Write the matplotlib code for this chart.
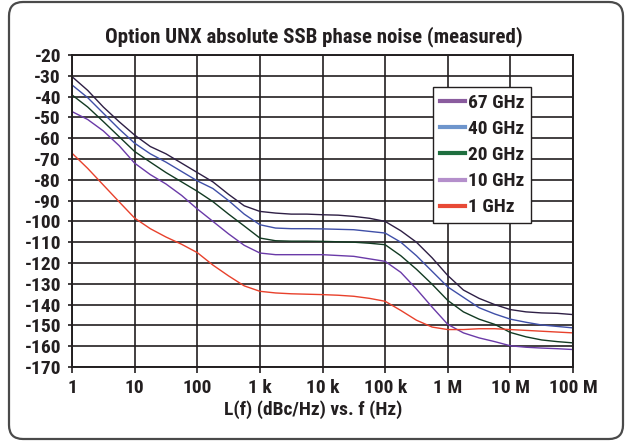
import numpy as np
import matplotlib
matplotlib.use("Agg")
import matplotlib.pyplot as plt
from matplotlib.lines import Line2D
from matplotlib.patches import FancyBboxPatch

plt.rcParams['font.family'] = ['Roboto Condensed', 'DejaVu Sans']
plt.rcParams['font.weight'] = 800
plt.rcParams['axes.unicode_minus'] = False

# offset frequency in decades above 1 Hz (quarter decade steps)
decades = [0, 0.25, 0.5, 0.75, 1, 1.25, 1.5, 1.75, 2, 2.25, 2.5, 2.75, 3, 3.25, 3.5, 3.75,
           4, 4.25, 4.5, 4.75, 5, 5.25, 5.5, 5.75, 6, 6.25, 6.5, 6.75, 7, 7.25, 7.5, 7.75, 8]

noise_67 = [-30.4, -37, -45, -52, -58.5, -64, -67.5, -72, -76.5, -81, -87, -92.5, -95.2, -96, -96.5, -96.5,
            -96.8, -97, -97.6, -98.5, -100, -104.5, -110, -117.5, -126, -133, -137, -140, -142.4, -143.5, -144, -144.2, -144.8]
noise_40 = [-34.4, -40.5, -48, -55.5, -62.4, -67.5, -71.5, -76, -80.5, -84.2, -90, -96.5, -101.6, -103.2, -103.5, -103.5,
            -103.6, -103.8, -104, -104.8, -105.6, -110, -116.5, -124, -131.5, -136.5, -141.5, -144.5, -147, -148.5, -149.8, -150.5, -151.2]
noise_20 = [-39.2, -45, -52, -59.2, -66.4, -71.5, -76.5, -81, -85.5, -90.5, -96.5, -102.2, -108, -109.3, -109.5, -109.5,
            -109.6, -109.8, -110, -110.5, -111.2, -116.5, -123, -130.2, -138, -143.5, -147, -149.5, -153.4, -155.5, -157, -157.8, -158.4]
noise_10 = [-47.2, -51, -56.5, -63.5, -72, -77.5, -82, -87.5, -94, -100, -106, -111.5, -115.2, -116, -116, -116,
            -116, -116.4, -116.8, -118, -119.2, -124.5, -132.5, -141.2, -149.5, -153.6, -156, -157.8, -159.8, -160.5, -160.9, -161.2, -161.6]
noise_1 = [-67.2, -74.5, -82.5, -90.5, -98.4, -103.5, -107.5, -111, -115, -121, -126.2, -131, -133.6, -134.4, -134.8, -135,
           -135.2, -135.5, -136, -137, -138.4, -142.8, -147.5, -150.8, -152, -152, -151.6, -151.6, -152, -152.4, -152.8, -153.2, -153.6]

labels = ['67 GHz', '40 GHz', '20 GHz', '10 GHz', '1 GHz']
line_colors = ['#2e1f45', '#3f4fa8', '#123a22', '#6a3aa8', '#e8412c']
legend_colors = ['#8a5c9e', '#6e95cc', '#1f6f3f', '#b48fcb', '#e84a36']
xtick_labels = ['1', '10', '100', '1 k', '10 k', '100 k', '1 M', '10 M', '100 M']

txt = '#231f20'
freq = 10.0 ** np.array(decades)

fig = plt.figure(figsize=(6.27, 4.41), dpi=100)
ax = fig.add_axes([72/627, 1-367/441, 501/627, 312/441])

for vals, c in zip([noise_67, noise_40, noise_20, noise_10, noise_1], line_colors):
    ax.plot(freq, vals, color=c, lw=1.0)

ax.set_xscale('log')
ax.set_xlim(1, 1e8)
ax.set_ylim(-170, -20)
ax.set_xticks(10.0 ** np.arange(9))
ax.set_xticklabels(xtick_labels)
ax.xaxis.set_minor_locator(matplotlib.ticker.NullLocator())
ax.set_yticks(np.arange(-170, -19, 10))
ax.grid(True, color='#231f20', lw=1.2)
for s in ax.spines.values():
    s.set_color(txt)
    s.set_linewidth(1.4)
ax.tick_params(axis='x', length=4.3, width=1.2, pad=4, labelsize=14, colors=txt)
ax.tick_params(axis='y', length=3, width=1.2, pad=5, labelsize=14, colors=txt)

fig.text(0.5, 1-37/441, 'Option UNX absolute SSB phase noise (measured)', ha='center', va='center',
         fontsize=15, color=txt)
fig.text(0.5, 1-410/441, 'L(f) (dBc/Hz) vs. f (Hz)', ha='center', va='center', fontsize=14, color=txt)

handles = [Line2D([], [], color=c, lw=3) for c in legend_colors]
leg = ax.legend(handles, labels, loc='upper left', bbox_to_anchor=(433/627, 1-87/441),
                bbox_transform=fig.transFigure, fancybox=False, framealpha=1, edgecolor=txt,
                fontsize=14, handlelength=1.3, handletextpad=0.15, labelspacing=0.42, borderpad=0.35,
                borderaxespad=0)
leg.get_frame().set_linewidth(1.0)
for t in leg.get_texts():
    t.set_color(txt)

box = FancyBboxPatch((0.09, 0.02), 6.14, 4.37, boxstyle='round,pad=0,rounding_size=0.14',
                     transform=fig.dpi_scale_trans, fill=False, edgecolor='#4a4a4a', lw=1.6)
fig.add_artist(box)

fig.savefig('out.png', dpi=100)
